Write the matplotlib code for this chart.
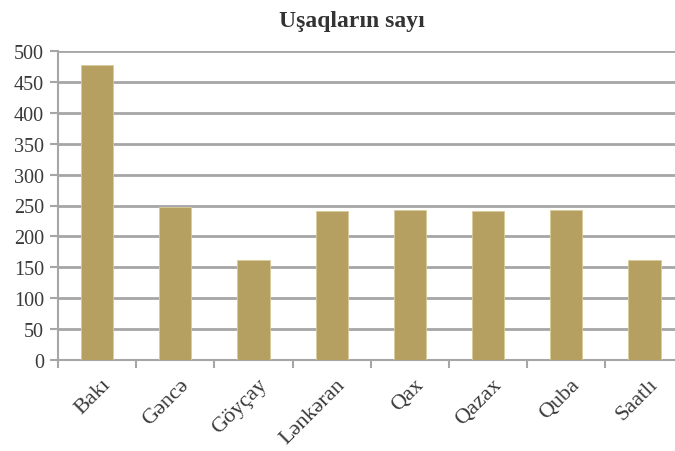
import matplotlib
matplotlib.use("Agg")
import matplotlib.pyplot as plt

categories = ["Bakı", "Gəncə", "Göyçay", "Lənkəran", "Qax", "Qazax", "Quba", "Saatlı"]
values = [478, 247, 162, 241, 243, 241, 242, 162]
yticks = [0, 50, 100, 150, 200, 250, 300, 350, 400, 450, 500]

plt.rcParams['font.family'] = ['Liberation Serif', 'DejaVu Serif']

fig = plt.figure(figsize=(6.75, 4.52), dpi=100)
ax = fig.add_axes([58/675, 1 - 361/452, (8*78.2)/675, 309/452])

x = list(range(len(categories)))
ax.bar(x, values, width=0.41, color="#b5a062", edgecolor="#d8cc9c", linewidth=0.6, zorder=3)
ax.set_xlim(-0.5, len(categories) - 0.5)
ax.set_ylim(0, 500)
ax.set_yticks(yticks)
ax.set_yticklabels([str(v) for v in yticks], fontsize=14.5, color="#3a3a3a")
ax.yaxis.grid(True, color="#a6a6a6", linewidth=2, zorder=0)
ax.set_axisbelow(True)

ax.set_xticks([i - 0.5 for i in x], minor=False)
ax.set_xticklabels([""] * len(x))
ax.tick_params(axis='x', length=6, color="#a6a6a6", width=1.5, direction='out')
ax.tick_params(axis='y', length=6, color="#a6a6a6", width=1.5, direction='out', pad=4)
for i, c in enumerate(categories):
    ax.text(i + 0.05, -24, c, rotation=45, ha='right', va='top', fontsize=16,
            color="#3a3a3a", rotation_mode='anchor')

for s in ['top', 'right']:
    ax.spines[s].set_visible(False)
ax.spines['left'].set_color("#a6a6a6")
ax.spines['left'].set_linewidth(1.5)
ax.spines['bottom'].set_color("#a6a6a6")
ax.spines['bottom'].set_linewidth(1.5)

fig.text(352/675, 1 - 22/452, "Uşaqların sayı", ha='center', va='center',
         fontsize=17, fontweight='bold', color="#333333")

fig.savefig("out.png", dpi=100)
